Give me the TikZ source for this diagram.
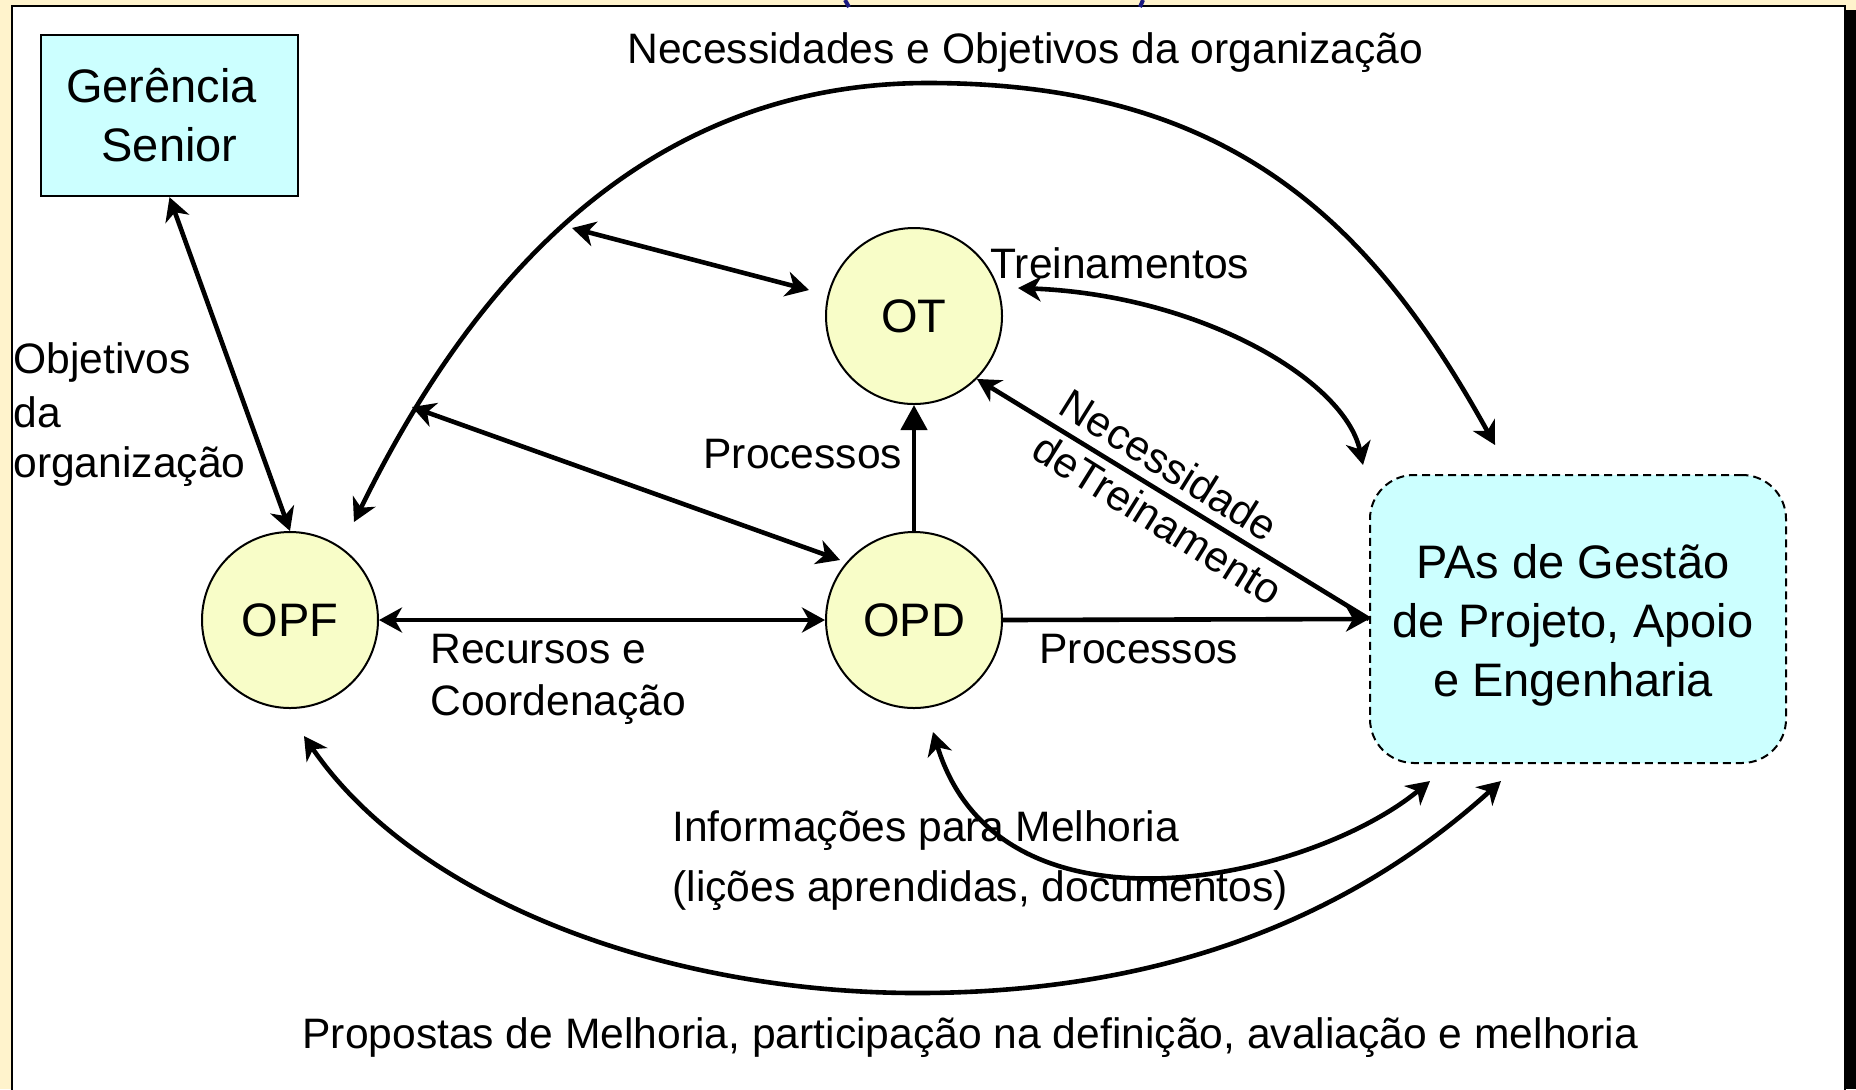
\documentclass[tikz,border=0pt]{standalone}
\usepackage{fontspec}
\setmainfont{Liberation Sans}
\usetikzlibrary{arrows.meta,calc}
\definecolor{bgyel}{HTML}{FFF3CC}
\definecolor{lcyan}{HTML}{CCFFFF}
\definecolor{lyel}{HTML}{F8FDC8}
\definecolor{navy}{HTML}{1A1A80}
\begin{document}
\begin{tikzpicture}[x=0.5pt,y=-0.5pt,
  lbl/.style={font=\fontsize{21.3pt}{26pt}\selectfont, inner sep=0pt},
  big/.style={font=\fontsize{23.5pt}{29.5pt}\selectfont, align=center},
  proc/.style={circle, draw, line width=1pt, fill=lyel, minimum size=88pt, inner sep=0pt, big},
  conn/.style={line width=2.3pt, >={Stealth[length=11.5pt,width=12.5pt,inset=3.5pt]}},
]
\useasboundingbox (0,0) rectangle (1856,1089);
\fill[bgyel] (0,0) rectangle (1856,1089);
\fill[black] (1843,10) rectangle (1856,1089);
\draw[fill=white, line width=1.2pt] (12,6) rectangle (1845,1100);
\draw[navy, line width=2pt] (845,0) -- (849,7);
\draw[navy, line width=2pt] (1143,0) -- (1140,7);

% nodes
\node[proc] (ot) at (914,316) {OT};
\node[proc] (opd) at (914,620) {OPD};
\node[proc] (opf) at (290,620) {OPF};
\node[draw, line width=1.2pt, fill=lcyan, minimum width=128.5pt, minimum height=80.5pt, big, inner sep=0pt] (ger) at (169.5,115.5) {\hspace*{-8pt}Gerência\\Senior};
\node[draw, dashed, dash pattern=on 4pt off 2.5pt, line width=1pt, fill=lcyan, rounded corners=22pt, minimum width=208pt, minimum height=144pt, big, inner sep=0pt] (pas) at (1578,619) {\hspace*{-5pt}\rule{0pt}{23.5pt}PAs de Gestão\\\hspace*{-5pt}de Projeto, Apoio\\\hspace*{-5pt}e Engenharia};

% labels
\node[lbl, anchor=base west] (nec) at (627,63) {Necessidades e Objetivos da organização};
\node[lbl, anchor=base west] (obj1) at (13,373) {Objetivos};
\node[lbl, anchor=base west] (obj2) at (13,427) {da};
\node[lbl, anchor=base west] (obj3) at (13,477) {organização};
\node[lbl, anchor=base west] (proc1) at (703,468) {Processos};
\node[lbl, anchor=base west] (trein) at (990,278) {Treinamentos};
\node[lbl, anchor=base west] (rec1) at (430,663) {Recursos e};
\node[lbl, anchor=base west] (rec2) at (430,715) {Coordenação};
\node[lbl, anchor=base west] (proc2) at (1039,663) {Processos};
\node[lbl, anchor=base west] (inf1) at (672,841) {Informações para Melhoria};
\node[lbl, anchor=base west] (inf2) at (672,901) {(lições aprendidas, documentos)};
\node[lbl, anchor=base west] (prop) at (302,1048) {Propostas de Melhoria, participação na definição, avaliação e melhoria};
\node[lbl, rotate=-32, align=left] (nect) at (1172,497) {Necessidade\\deTreinamento};

% free ends
\coordinate (a1) at (354,522);
\coordinate (a2) at (1495,445);
\coordinate (b1) at (572,228);
\coordinate (b2) at (809,290);
\coordinate (c1) at (412,407);
\coordinate (c2) at (840,560);
\coordinate (t1) at (1018,288);
\coordinate (t2) at (1363,465);
\coordinate (i1) at (933,732);
\coordinate (i2) at (1430,781);
\coordinate (p1) at (304,736);
\coordinate (p2) at (1501,781);

% connectors
\draw[conn,<->] (ger.south) -- (opf.north);
\draw[conn,<->] (opf.east) -- (opd.west);
\draw[conn,-{Triangle[length=12.5pt,width=13pt]}] (opd.north) -- (ot.south);
\draw[conn,->] (opd.east) -- (pas.west);
\draw[conn,->] (pas.west) -- (ot.-45);
\draw[conn,<->] (a1) .. controls (460,306) and (628,83) .. (928,83) .. controls (1228,83) and (1370,219) .. (a2);
\draw[conn,<->] (b1) -- (b2);
\draw[conn,<->] (c1) -- (c2);
\draw[conn,<->] (t1) .. controls (1200,295) and (1345,380) .. (t2);
\draw[conn,<->] (i1) .. controls (1000,950) and (1310,880) .. (i2);
\draw[conn,<->] (p1) .. controls (417,901) and (667,993) .. (917,993) .. controls (1167,993) and (1353,915) .. (p2);
\end{tikzpicture}
\end{document}
